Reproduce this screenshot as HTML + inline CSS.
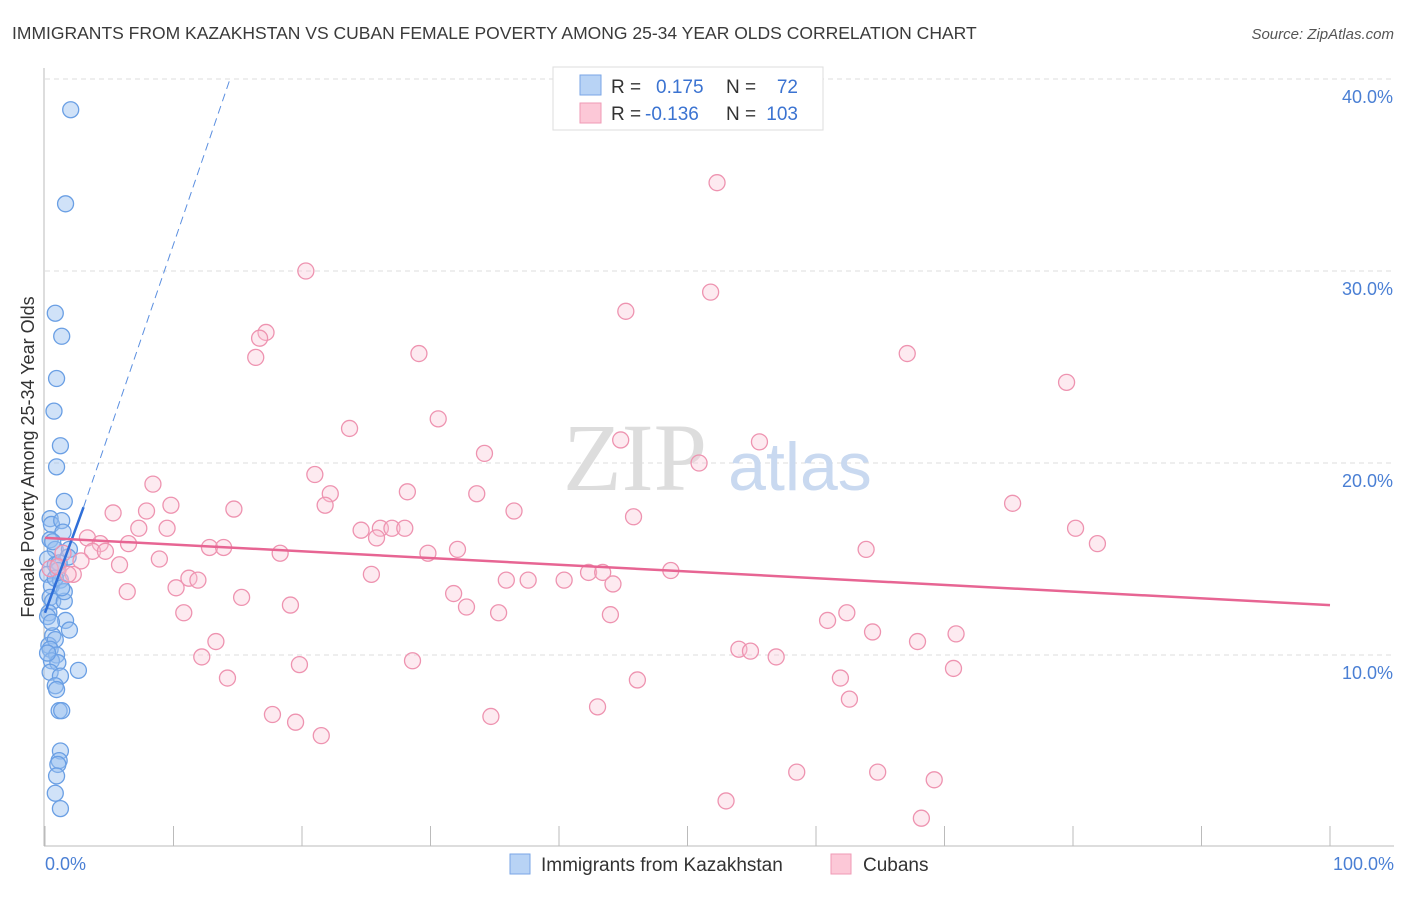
<!DOCTYPE html>
<html><head><meta charset="utf-8"><style>
body{margin:0;background:#fff;font-family:"Liberation Sans",sans-serif;}
</style></head><body>
<svg id="chart" width="1406" height="892" xmlns="http://www.w3.org/2000/svg">
<text x="12" y="39" font-size="17.5" fill="#3a3a3a">IMMIGRANTS FROM KAZAKHSTAN VS CUBAN FEMALE POVERTY AMONG 25-34 YEAR OLDS CORRELATION CHART</text>
<text x="1394" y="39" font-size="15" fill="#555" font-style="italic" text-anchor="end">Source: ZipAtlas.com</text>
<g id="grid"></g>
<text x="635" y="490" font-size="96" fill="#ddd" font-family="Liberation Serif,serif" text-anchor="middle">ZIP</text>
<text x="800" y="490" font-size="68" fill="#c9d9f0" text-anchor="middle">atlas</text>
<line x1="44" y1="68" x2="44" y2="846" stroke="#bbb"/>
<line x1="44" y1="846" x2="1394" y2="846" stroke="#bbb"/>
<g id="ticks"></g>
<g id="blue"></g><g id="pink"></g><g id="lines"></g>
<text x="34" y="457" font-size="18" fill="#333" text-anchor="middle" transform="rotate(-90 34 457)">Female Poverty Among 25-34 Year Olds</text>
<text x="45" y="870" font-size="18" fill="#4a7fd4">0.0%</text>
<text x="1394" y="870" font-size="18" fill="#4a7fd4" text-anchor="end">100.0%</text>
<g>
<rect x="553" y="67" width="270" height="63" fill="#fff" stroke="#ddd"/>
<rect x="580" y="75" width="21" height="20" fill="#b8d3f5" stroke="#7aa6e6"/>
<rect x="580" y="103" width="21" height="20" fill="#fcc8d7" stroke="#ef9ab5"/>
<text x="611" y="93" font-size="19" fill="#333">R =</text>
<text x="656" y="93" font-size="19" fill="#3b73d1">0.175</text>
<text x="726" y="93" font-size="19" fill="#333">N =</text>
<text x="798" y="93" font-size="19" fill="#3b73d1" text-anchor="end">72</text>
<text x="611" y="120" font-size="19" fill="#333">R =</text>
<text x="645" y="120" font-size="19" fill="#3b73d1">-0.136</text>
<text x="726" y="120" font-size="19" fill="#333">N =</text>
<text x="798" y="120" font-size="19" fill="#3b73d1" text-anchor="end">103</text>
</g>
<g>
<rect x="510" y="854" width="20" height="20" fill="#b8d3f5" stroke="#7aa6e6"/>
<text x="541" y="871" font-size="19" fill="#333">Immigrants from Kazakhstan</text>
<rect x="831" y="854" width="20" height="20" fill="#fcc8d7" stroke="#ef9ab5"/>
<text x="863" y="871" font-size="19" fill="#333">Cubans</text>
</g>
</svg>
<script>
const yTicks=[10,20,30,40];
const xTickSteps=[0,10,20,30,40,50,60,70,80,90,100];
const blueX=[2.0,1.6,0.8,1.3,0.9,0.7,1.2,0.9,1.5,0.4,0.5,1.3,1.4,0.4,0.8,1.9,1.8,0.2,0.8,0.2,0.5,0.4,0.6,1.5,0.3,1.6,1.9,0.6,0.3,0.8,0.4,0.9,0.5,1.0,2.6,0.4,1.2,0.8,0.9,1.1,1.3,1.2,1.1,1.0,0.9,0.8,1.2,1.1,1.0,1.2,0.6,1.5,0.2,0.5,0.2,0.8,1.3];
const blueY=[38.4,33.5,27.8,26.6,24.4,22.7,20.9,19.8,18.0,17.1,16.8,17.0,16.4,16.0,15.5,15.5,15.1,15.0,14.7,14.2,13.6,13.0,12.8,12.8,12.2,11.8,11.3,11.0,10.5,10.8,10.3,10.0,9.7,9.6,9.2,9.1,8.9,8.4,8.2,7.1,7.1,5.0,4.5,4.3,3.7,2.8,2.0,14.8,14.4,13.9,15.9,13.3,12.0,11.7,10.1,14.0,13.5];
const pinkX=[52.3,20.3,51.8,45.2,17.2,16.7,16.4,29.1,67.1,79.5,23.7,30.6,44.8,55.6,34.2,50.9,21.0,8.4,22.2,28.2,33.6,75.3,21.8,9.8,14.7,7.9,5.3,36.5,45.8,80.2,24.6,26.1,27.0,28.0,9.5,25.8,7.3,3.3,4.3,6.5,81.9,3.7,4.7,12.8,13.9,32.1,18.3,29.8,63.9,8.9,5.8,2.8,1.4,0.4,2.2,11.2,11.9,25.4,35.9,37.6,40.4,42.3,43.4,44.2,48.7,10.2,31.8,6.4,15.3,19.1,32.8,35.3,44.0,60.9,62.4,10.8,64.4,13.3,70.9,67.9,54.0,54.9,56.9,12.2,19.8,28.6,70.7,14.2,46.1,61.9,62.6,17.7,19.5,34.7,43.0,21.5,58.5,64.8,69.2,53.0,68.2,1.0,1.8];
const pinkY=[34.6,30.0,28.9,27.9,26.8,26.5,25.5,25.7,25.7,24.2,21.8,22.3,21.2,21.1,20.5,20.0,19.4,18.9,18.4,18.5,18.4,17.9,17.8,17.8,17.6,17.5,17.4,17.5,17.2,16.6,16.5,16.6,16.6,16.6,16.6,16.1,16.6,16.1,15.8,15.8,15.8,15.4,15.4,15.6,15.6,15.5,15.3,15.3,15.5,15.0,14.7,14.9,15.3,14.5,14.2,14.0,13.9,14.2,13.9,13.9,13.9,14.3,14.3,13.7,14.4,13.5,13.2,13.3,13.0,12.6,12.5,12.2,12.1,11.8,12.2,12.2,11.2,10.7,11.1,10.7,10.3,10.2,9.9,9.9,9.5,9.7,9.3,8.8,8.7,8.8,7.7,6.9,6.5,6.8,7.3,5.8,3.9,3.9,3.5,2.4,1.5,14.6,14.2];
const blueFit=[[0,12.2],[3,17.7]];
const blueExt=[[3,17.7],[14.4,40.0]];
const pinkFit=[[0,16.1],[100,12.6]];
const X=v=>45+v*12.85, Y=v=>847-v*19.2;
const NS="http://www.w3.org/2000/svg";
function mk(tag,attrs,parent){const e=document.createElementNS(NS,tag);for(const k in attrs)e.setAttribute(k,attrs[k]);document.getElementById(parent).appendChild(e);return e;}
yTicks.forEach(t=>{
 const l=mk('line',{x1:45,x2:1394,y1:Y(t),y2:Y(t),stroke:'#ddd','stroke-dasharray':'5,4'},'grid');
 
 
 const tx=mk('text',{x:1393,y:Y(t)+24,'font-size':18,fill:'#4a7fd4','text-anchor':'end'},'grid');
 tx.textContent=t.toFixed(1)+'%';
 
 
});
xTickSteps.forEach(t=>{
 const l=mk('line',{x1:X(t),x2:X(t),y1:826,y2:846,stroke:'#bbb'},'ticks');
 
 
});
blueX.forEach((v,i)=>{
 const c=mk('circle',{cx:X(v),cy:Y(blueY[i]),r:8,fill:'rgba(150,190,240,0.45)',stroke:'#6a9fe4','stroke-width':1.3},'blue');
 
 
});
pinkX.forEach((v,i)=>{
 const c=mk('circle',{cx:X(v),cy:Y(pinkY[i]),r:8,fill:'rgba(250,195,212,0.35)',stroke:'#ee93b0','stroke-width':1.3},'pink');
 
 
});
let l1=mk('line',{x1:X(blueFit[0][0]),y1:Y(blueFit[0][1]),x2:X(blueFit[1][0]),y2:Y(blueFit[1][1]),stroke:'#2f6fd8','stroke-width':2.5},'lines');


let l2=mk('line',{x1:X(blueExt[0][0]),y1:Y(blueExt[0][1]),x2:X(blueExt[1][0]),y2:Y(blueExt[1][1]),stroke:'#5b8fe0','stroke-width':1,'stroke-dasharray':'8,5'},'lines');


let l3=mk('line',{x1:X(pinkFit[0][0]),y1:Y(pinkFit[0][1]),x2:X(pinkFit[1][0]),y2:Y(pinkFit[1][1]),stroke:'#e76593','stroke-width':2.5},'lines');


</script>
</body></html>
